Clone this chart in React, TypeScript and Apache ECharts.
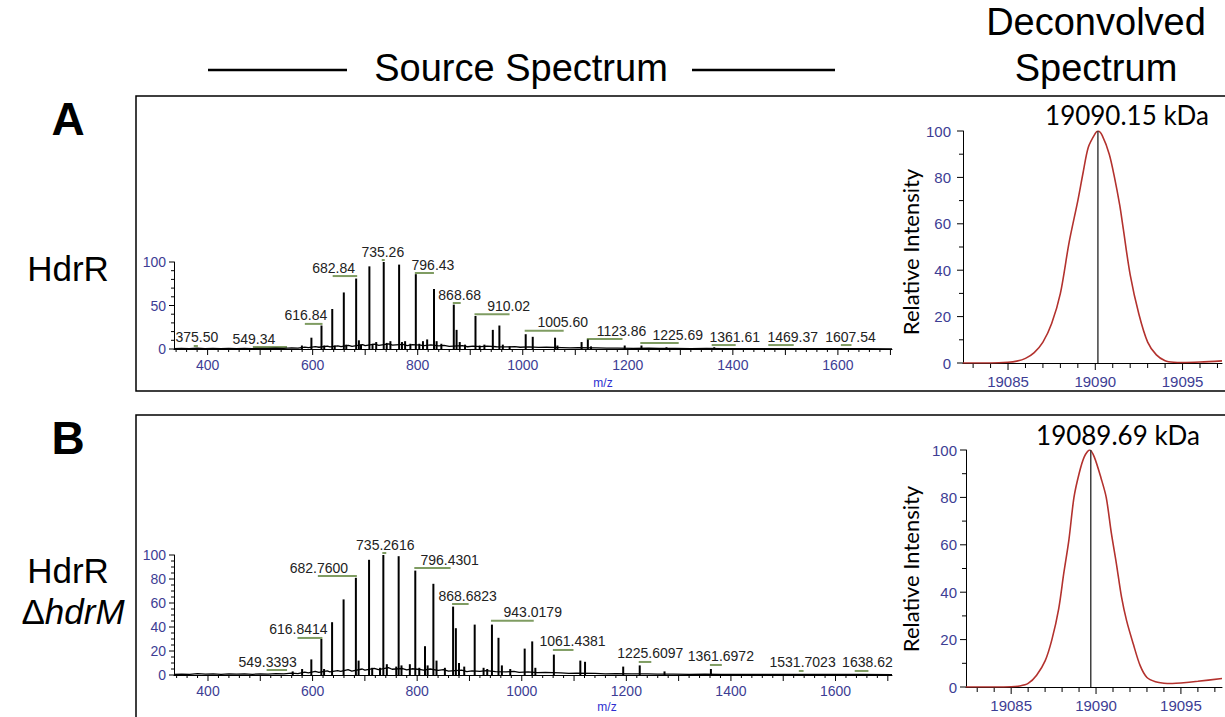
import React, { useEffect, useRef } from "react";
import * as echarts from "echarts";

// ---------- Source spectrum A (HdrR) ----------
const peaksA: [number, number][] = [
  [579.5, 4], [597.6, 13], [616.8, 27], [622, 4], [637.3, 46], [642, 4], [659.3, 65], [664, 5],
  [682.8, 81], [688, 10], [692, 5], [708.0, 95], [714, 6], [721, 8], [735.3, 100], [741, 7],
  [748, 9], [764.6, 97], [770, 8], [776, 9], [786, 6], [796.4, 86], [803, 6], [810, 9], [818, 11],
  [831.0, 69], [836, 9], [845, 6], [868.7, 51], [874, 22], [880, 8], [890, 5], [910.0, 38],
  [918, 4], [927, 5], [943, 22], [955.5, 27], [962, 5], [975, 3], [1005.6, 17], [1019, 14],
  [1061.5, 13], [1066, 4], [1112, 8], [1123.9, 11], [1130, 3], [1194.1, 4], [1226, 4],
  [1273.6, 2], [1364.6, 2], [1469, 0.8], [1607, 0.8],
];
const baselineA: [number, number][] = [
  [336, 0.3], [350, 0.6], [365, 0.4], [380, 0.9], [395, 0.5], [410, 0.7], [425, 0.4], [440, 0.8],
  [455, 0.5], [470, 0.7], [485, 0.5], [500, 0.8], [515, 0.6], [530, 0.9], [545, 0.7], [560, 1.2],
  [572, 1.0], [585, 2.2], [592, 1.5], [605, 2.8], [612, 2.0], [628, 3.2], [633, 2.4], [648, 3.5],
  [654, 2.8], [668, 4.2], [675, 3.0], [695, 5.0], [700, 3.8], [718, 5.5], [726, 4.2], [745, 6.0],
  [752, 4.5], [772, 5.2], [780, 4.0], [790, 5.0], [805, 4.5], [812, 3.8], [825, 4.8], [840, 3.6],
  [850, 4.2], [860, 3.0], [885, 3.8], [895, 2.6], [905, 3.2], [920, 2.8], [932, 3.4], [950, 2.6],
  [970, 2.4], [985, 2.8], [995, 2.0], [1012, 2.4], [1030, 1.8], [1045, 2.0], [1075, 1.6],
  [1090, 1.2], [1105, 1.5], [1140, 1.2], [1160, 0.9], [1180, 1.0], [1210, 0.8], [1240, 0.9],
  [1260, 0.6], [1290, 0.7], [1320, 0.5], [1350, 0.6], [1380, 0.5], [1420, 0.4], [1460, 0.5],
  [1500, 0.3], [1550, 0.4], [1600, 0.3], [1650, 0.3], [1703, 0.2],
];
// [label text (= peak m/z), label centre m/z, underline intensity]
const labelsA: [string, number, number][] = [
  ["375.50", 379.6, 4.6], ["549.34", 488, 3.4], ["616.84", 587, 30], ["682.84", 640, 85],
  ["735.26", 733.5, 103.4], ["796.43", 829, 88.5], ["868.68", 880, 54], ["910.02", 973, 41],
  ["1005.60", 1076, 22], ["1123.86", 1188, 12.6], ["1225.69", 1295, 8], ["1361.61", 1403.5, 5.7],
  ["1469.37", 1514, 5.7], ["1607.54", 1624, 5.7],
];

// ---------- Source spectrum B (HdrR ΔhdrM) ----------
const peaksB: [number, number][] = [
  [562, 3], [580, 5], [597.6, 13], [616.8, 30], [622, 5], [637.3, 44], [659.3, 63], [682.8, 81],
  [688, 12], [708.0, 96], [714, 6], [729, 6], [735.3, 100], [742, 9], [760, 7], [764.6, 99],
  [770, 8], [786, 9], [796.4, 87], [804, 6], [815, 24], [820, 8], [831.0, 76], [837, 12],
  [853, 6], [868.7, 57], [874, 39], [880, 10], [890, 7], [910.0, 42], [927, 6], [934, 5],
  [943.0, 42], [955.5, 31], [962, 8], [978, 5], [1005.6, 22], [1020, 28], [1026, 6],
  [1061.4, 17], [1112, 12], [1121, 11], [1194, 7], [1225.6, 8], [1273, 3], [1361.7, 5],
  [1531.7, 0.8], [1638.6, 0.8],
];
const baselineB: [number, number][] = [
  [335, 0.5], [350, 0.8], [365, 0.6], [380, 1.2], [395, 0.7], [410, 0.9], [425, 0.6], [440, 1.0],
  [455, 0.7], [470, 0.9], [485, 0.6], [500, 1.0], [515, 0.8], [530, 1.1], [545, 0.9], [560, 1.5],
  [572, 1.2], [585, 2.4], [592, 1.8], [605, 3.0], [612, 2.2], [628, 3.4], [633, 2.6], [648, 3.6],
  [654, 3.0], [668, 4.4], [675, 3.2], [695, 5.0], [700, 4.0], [718, 5.6], [726, 4.4], [745, 6.2],
  [752, 4.8], [772, 5.4], [780, 4.2], [790, 5.2], [805, 4.6], [812, 4.0], [825, 5.0], [840, 3.8],
  [850, 4.4], [860, 3.2], [885, 4.0], [895, 2.8], [905, 3.4], [920, 3.0], [932, 3.6], [950, 2.8],
  [970, 2.6], [985, 3.0], [995, 2.2], [1012, 2.6], [1030, 2.0], [1045, 2.2], [1075, 1.8],
  [1090, 1.4], [1105, 1.6], [1140, 1.3], [1160, 1.0], [1180, 1.1], [1210, 0.9], [1240, 1.0],
  [1260, 0.7], [1290, 0.8], [1320, 0.6], [1350, 0.7], [1380, 0.6], [1420, 0.5], [1460, 0.6],
  [1500, 0.4], [1550, 0.5], [1600, 0.4], [1650, 0.4], [1708, 0.3],
];
const labelsB: [string, number, number][] = [
  ["549.3393", 514, 5], ["616.8414", 573, 31.7], ["682.7600", 612, 83.3], ["735.2616", 739, 102.5],
  ["796.4301", 862, 90], ["868.6823", 896.5, 60], ["943.0179", 1021, 46], ["1061.4381", 1097, 21.7],
  ["1225.6097", 1245.8, 11.7], ["1361.6972", 1380.7, 9.2], ["1531.7023", 1537, 4.2],
  ["1638.62", 1661, 4.2],
];

// ---------- Deconvolved spectra ----------
const deconvA: [number, number][] = [
  [19082.42, 0], [19084, 0], [19085, 0.3], [19085.5, 0.8], [19086, 2], [19086.5, 4.5], [19087, 9],
  [19087.5, 17], [19088, 30], [19088.5, 52], [19089, 70], [19089.3, 82], [19089.6, 93],
  [19090, 99], [19090.15, 100], [19090.4, 98], [19090.8, 90], [19091.1, 80], [19091.4, 68],
  [19091.6, 58], [19092, 38], [19092.5, 21], [19093, 9], [19093.5, 3.5], [19094, 1],
  [19094.5, 0.3], [19095, 0.2], [19096, 0.4], [19097.26, 0.9],
];
const deconvB: [number, number][] = [
  [19082.34, 0], [19084, 0], [19085, 0.1], [19085.5, 0.4], [19086, 1.5], [19086.5, 5], [19087, 11],
  [19087.4, 20], [19087.8, 33], [19088.1, 48], [19088.4, 62], [19088.7, 80], [19089, 90],
  [19089.3, 97], [19089.63, 100], [19089.9, 97], [19090.3, 88], [19090.6, 80], [19090.9, 65],
  [19091.2, 52], [19091.5, 38], [19091.8, 28], [19092.2, 18], [19092.6, 9], [19093, 4],
  [19093.5, 2.2], [19094, 1.6], [19094.5, 1.5], [19095, 1.7], [19096, 2.4], [19097.42, 3.6],
];
const massA = 19090.15;
const massB = 19089.69;
const titleA = "19090.15 kDa";
const titleB = "19089.69 kDa";

const TICK_COLOR = "#3d3d94";
const FONT = "Liberation Sans";

function xAxis(grid: number, min: number, max: number, labelEvery: number, fontSize: number, margin: number) {
  return {
    gridIndex: grid, type: "value", min, max, position: "bottom",
    splitNumber: Math.round((max - min) / labelEvery),
    minInterval: labelEvery, maxInterval: labelEvery,
    axisLine: { show: true, onZero: false, lineStyle: { color: "#000", width: 1 } },
    axisTick: { show: false },
    splitLine: { show: false },
    axisLabel: {
      show: true, color: TICK_COLOR, fontFamily: FONT, fontSize, margin,
      formatter: (v: number) => (Math.abs(v / labelEvery - Math.round(v / labelEvery)) < 1e-6 ? String(Math.round(v)) : ""),
    },
  };
}

function yAxis(grid: number, interval: number, fontSize: number, margin: number) {
  return {
    gridIndex: grid, type: "value", min: 0, max: 100, interval,
    axisLine: { show: true, onZero: false, lineStyle: { color: "#000", width: 1 } },
    axisTick: { show: false },
    splitLine: { show: false },
    axisLabel: { color: TICK_COLOR, fontFamily: FONT, fontSize, margin },
  };
}

// tick marks drawn through the axes' own scales
function tickSeries(xIdx: number, yIdx: number, xMin: number, xMax: number, xMinor: number, xMajor: number,
  xMinorLen: number, xMajorLen: number, yMinor: number, yMajor: number, yMinorLen: number, yMajorLen: number) {
  return {
    type: "custom", xAxisIndex: xIdx, yAxisIndex: yIdx, clip: false, silent: true,
    data: [[xMin, 0]],
    encode: { x: 0, y: 1 },
    renderItem: (params: any, api: any) => {
      const origin = api.coord([xMin, 0]);
      const x0 = origin[0];
      const y0 = origin[1];
      const children: any[] = [];
      const iStart = Math.ceil(xMin / xMinor - 1e-9);
      const iEnd = Math.floor(xMax / xMinor + 1e-9);
      for (let i = iStart; i <= iEnd; i++) {
        const v = i * xMinor;
        const major = Math.abs(v / xMajor - Math.round(v / xMajor)) < 1e-6;
        const x = api.coord([v, 0])[0];
        children.push({
          type: "line",
          shape: { x1: x, y1: y0, x2: x, y2: y0 + (major ? xMajorLen : xMinorLen) },
          style: { stroke: "#000", lineWidth: 1 },
        });
      }
      const jEnd = Math.round(100 / yMinor);
      for (let j = 0; j <= jEnd; j++) {
        const v = j * yMinor;
        const major = Math.abs(v / yMajor - Math.round(v / yMajor)) < 1e-6;
        const y = api.coord([xMin, v])[1];
        children.push({
          type: "line",
          shape: { x1: x0, y1: y, x2: x0 - (major ? yMajorLen : yMinorLen), y2: y },
          style: { stroke: "#000", lineWidth: 1 },
        });
      }
      return { type: "group", children };
    },
  };
}

function spectrumSeries(xIdx: number, yIdx: number, peaks: [number, number][],
  baseline: [number, number][], labels: [string, number, number][]) {
  return [
    {
      type: "line", xAxisIndex: xIdx, yAxisIndex: yIdx, data: baseline, symbol: "none",
      lineStyle: { color: "#000", width: 1.3 },
    },
    {
      type: "bar", xAxisIndex: xIdx, yAxisIndex: yIdx, data: peaks, barWidth: 2,
      itemStyle: { color: "#000" },
    },
    {
      type: "custom", xAxisIndex: xIdx, yAxisIndex: yIdx, clip: false, silent: true,
      data: labels.map((l) => [l[1], l[2], parseFloat(l[0])]),
      encode: { x: [0, 2], y: 1 },
      renderItem: (params: any, api: any) => {
        const lab = labels[params.dataIndex];
        const p = api.coord([api.value(0), api.value(1)]);
        const q = api.coord([api.value(2), api.value(1)]);
        const x1 = Math.min(p[0], q[0]);
        const x2 = Math.max(p[0], q[0]);
        return {
          type: "group",
          children: [
            {
              type: "line",
              shape: { x1: x1 - 1, y1: p[1] + 1, x2: x2 + 1, y2: p[1] + 1 },
              style: { stroke: "#7f9c62", lineWidth: 2 },
            },
            {
              type: "text", x: p[0], y: p[1] - 0.5,
              style: {
                text: lab[0], fill: "#222", font: `14px "${FONT}"`,
                align: "center", verticalAlign: "bottom",
              },
            },
          ],
        };
      },
    },
  ];
}

function deconvSeries(xIdx: number, yIdx: number, curve: [number, number][], mass: number) {
  return [
    {
      type: "line", xAxisIndex: xIdx, yAxisIndex: yIdx, data: curve, symbol: "none", smooth: 0.3,
      lineStyle: { color: "#b3322e", width: 1.6 },
    },
    {
      type: "line", xAxisIndex: xIdx, yAxisIndex: yIdx, data: [[mass, 0], [mass, 100]], symbol: "none",
      lineStyle: { color: "#333", width: 1.4 },
    },
  ];
}

const bigFont = `38px "${FONT}"`;
const pageGraphic: any[] = [
  { type: "rect", shape: { x: 136, y: 96, width: 1100, height: 295 }, style: { fill: "none", stroke: "#000", lineWidth: 1.5 }, silent: true },
  { type: "rect", shape: { x: 136, y: 415, width: 1100, height: 320 }, style: { fill: "none", stroke: "#000", lineWidth: 1.5 }, silent: true },
  { type: "line", shape: { x1: 208, y1: 70, x2: 347, y2: 70 }, style: { stroke: "#000", lineWidth: 2.5 } },
  { type: "line", shape: { x1: 692, y1: 70, x2: 835, y2: 70 }, style: { stroke: "#000", lineWidth: 2.5 } },
  { type: "text", x: 521, y: 68, style: { text: "Source Spectrum", font: bigFont, fill: "#000", align: "center", verticalAlign: "middle" } },
  { type: "text", x: 1096, y: 22, style: { text: "Deconvolved", font: bigFont, fill: "#000", align: "center", verticalAlign: "middle" } },
  { type: "text", x: 1096, y: 68, style: { text: "Spectrum", font: bigFont, fill: "#000", align: "center", verticalAlign: "middle" } },
  { type: "text", x: 68, y: 119, style: { text: "A", font: `bold 46px "${FONT}"`, fill: "#000", align: "center", verticalAlign: "middle" } },
  { type: "text", x: 68, y: 438, style: { text: "B", font: `bold 46px "${FONT}"`, fill: "#000", align: "center", verticalAlign: "middle" } },
  { type: "text", x: 68, y: 268, style: { text: "HdrR", font: `35px "${FONT}"`, fill: "#000", align: "center", verticalAlign: "middle" } },
  { type: "text", x: 68, y: 570, style: { text: "HdrR", font: `35px "${FONT}"`, fill: "#000", align: "center", verticalAlign: "middle" } },
  {
    type: "text", x: 73, y: 611,
    style: {
      text: "{n|Δ}{i|hdrM}", align: "center", verticalAlign: "middle",
      rich: {
        n: { font: `35px "${FONT}"`, fill: "#000" },
        i: { font: `italic 35px "${FONT}"`, fill: "#000" },
      },
    },
  },
];

function optionA(): any {
  return {
    animation: false,
    backgroundColor: "#fff",
    grid: [
      { left: 174, top: 262, width: 718, height: 87 },
      { left: 963, top: 131, width: 262, height: 232 },
    ],
    xAxis: [
      xAxis(0, 336, 1703, 200, 14, 9),
      xAxis(1, 19082.42, 19097.26, 5, 15, 11),
    ],
    yAxis: [yAxis(0, 50, 14, 8), yAxis(1, 20, 15, 12)],
    series: [
      ...spectrumSeries(0, 0, peaksA, baselineA, labelsA),
      ...deconvSeries(1, 1, deconvA, massA),
      tickSeries(0, 0, 336, 1703, 20, 100, 3, 6, 10, 50, 3, 5),
      tickSeries(1, 1, 19082.42, 19097.26, 1, 5, 5, 7, 10, 20, 4, 6),
    ],
    graphic: [
      ...pageGraphic,
      { type: "text", x: 603, y: 383, style: { text: "m/z", font: `12px "${FONT}"`, fill: "#2e2ed0", align: "center", verticalAlign: "middle" } },
      { type: "text", x: 910, y: 252, rotation: Math.PI / 2, style: { text: "Relative Intensity", font: `22px Lato`, fill: "#000", align: "center", verticalAlign: "middle" } },
      { type: "text", x: 1127, y: 115, style: { text: titleA, font: `26px Lato`, fill: "#000", align: "center", verticalAlign: "middle" } },
    ],
  };
}

function optionB(): any {
  return {
    animation: false,
    backgroundColor: "transparent",
    grid: [
      { left: 174, top: 555, width: 718, height: 120 },
      { left: 966, top: 450, width: 259, height: 237 },
    ],
    xAxis: [
      xAxis(0, 335, 1708, 200, 14, 9),
      xAxis(1, 19082.34, 19097.42, 5, 15, 11),
    ],
    yAxis: [yAxis(0, 20, 14, 8), yAxis(1, 20, 15, 9)],
    series: [
      ...spectrumSeries(0, 0, peaksB, baselineB, labelsB),
      ...deconvSeries(1, 1, deconvB, massB),
      tickSeries(0, 0, 335, 1708, 20, 100, 3, 6, 5, 20, 3, 5),
      tickSeries(1, 1, 19082.34, 19097.42, 1, 5, 5, 7, 10, 20, 4, 6),
    ],
    graphic: [
      { type: "text", x: 607, y: 707, style: { text: "m/z", font: `12px "${FONT}"`, fill: "#2e2ed0", align: "center", verticalAlign: "middle" } },
      { type: "text", x: 910, y: 569, rotation: Math.PI / 2, style: { text: "Relative Intensity", font: `22px Lato`, fill: "#000", align: "center", verticalAlign: "middle" } },
      { type: "text", x: 1118, y: 435, style: { text: titleB, font: `26px Lato`, fill: "#000", align: "center", verticalAlign: "middle" } },
    ],
  };
}

function Layer({ make, z }: { make: () => any; z: number }) {
  const ref = useRef<HTMLDivElement>(null);
  useEffect(() => {
    if (!ref.current) return;
    const chart = echarts.init(ref.current, null, { renderer: "svg" });
    chart.setOption(make());
    return () => chart.dispose();
  }, [make]);
  return (
    <div style={{ position: "fixed", left: 0, top: 0, width: 1225, height: 717, zIndex: z }}>
      <div ref={ref} style={{ width: 1225, height: 717 }} />
    </div>
  );
}

export default function App() {
  return (
    <div>
      <Layer make={optionA} z={1} />
      <Layer make={optionB} z={2} />
    </div>
  );
}
